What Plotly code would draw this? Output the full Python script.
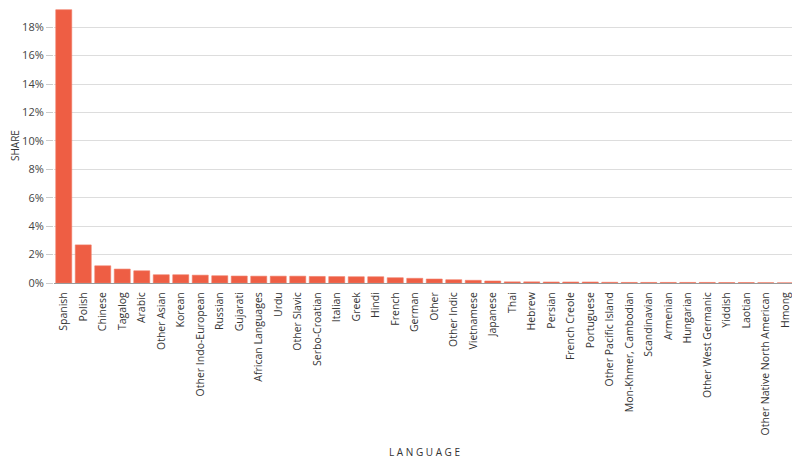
import plotly.graph_objects as go

# language share data
languages = ['Spanish', 'Polish', 'Chinese', 'Tagalog', 'Arabic', 'Other Asian', 'Korean',
             'Other Indo-European', 'Russian', 'Gujarati', 'African Languages', 'Urdu',
             'Other Slavic', 'Serbo-Croatian', 'Italian', 'Greek', 'Hindi', 'French', 'German',
             'Other', 'Other Indic', 'Vietnamese', 'Japanese', 'Thai', 'Hebrew', 'Persian',
             'French Creole', 'Portuguese', 'Other Pacific Island', 'Mon-Khmer, Cambodian',
             'Scandinavian', 'Armenian', 'Hungarian', 'Other West Germanic', 'Yiddish',
             'Laotian', 'Other Native North American', 'Hmong']
share = [0.1923, 0.0268, 0.0121, 0.0098, 0.0086, 0.0058, 0.0058,
         0.0055, 0.0051, 0.0049, 0.0048, 0.0048,
         0.0048, 0.0046, 0.0045, 0.0044, 0.0044, 0.0037, 0.0033,
         0.0028, 0.0023, 0.0019, 0.0014, 0.0008, 0.0008, 0.0007,
         0.0007, 0.0007, 0.0005, 0.0004,
         0.0004, 0.0004, 0.0004, 0.0004, 0.0003,
         0.0003, 0.0002, 0.0001]

fig = go.Figure(go.Bar(
    x=languages, y=share,
    marker=dict(color='#ee5e44', line=dict(color='#f07a64', width=0.6)),
))

font = 'Open Sans'
# page body has an 8px margin, so the figure is 8px smaller each way
fig.update_layout(
    width=792, height=452,
    margin=dict(l=46, r=5, t=1, b=177),
    plot_bgcolor='white', paper_bgcolor='white',
    font=dict(family=font, size=10, color='#333'),
    bargap=0.18,
    showlegend=False,
)
fig.update_yaxes(
    range=[0, 0.1928], tickformat='.0%', dtick=0.02,
    showgrid=True, gridcolor='#dddddd', gridwidth=1,
    ticks='outside', ticklen=7, tickcolor='#cccccc',
    zeroline=False, showline=False, automargin=False,
    tickfont=dict(size=11, color='#444'),
)
# y title as a rotated annotation so it sits right at the left edge
fig.add_annotation(text='SHARE', xref='paper', yref='paper', x=0, y=0.5,
                   xanchor='center', yanchor='middle', xshift=-39, textangle=-90,
                   showarrow=False, font=dict(size=10, family=font, color='#333'))
fig.update_xaxes(
    tickangle=-90, showgrid=False, showline=True, linecolor='#999', linewidth=1,
    ticks='outside', ticklen=4, tickcolor='rgba(0,0,0,0)',
    tickfont=dict(size=10.5, color='#333'), automargin=False,
    title=dict(text='L A N G U A G E', font=dict(size=10, family=font, color='#333'), standoff=14),
)

fig.write_html("out.html")
